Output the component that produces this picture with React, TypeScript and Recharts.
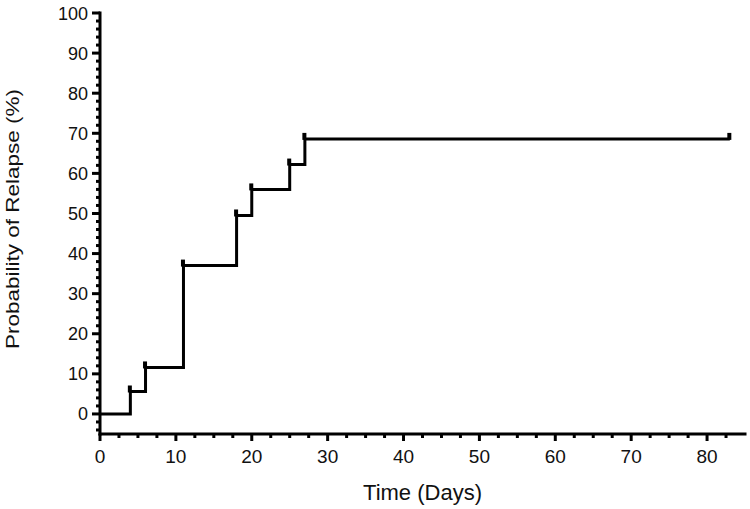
import React from 'react';
import { ComposedChart, Line, Scatter, XAxis, YAxis } from 'recharts';

// Kaplan-Meier style relapse curve (step after each event)
const days = [0, 4, 6, 11, 18, 20, 25, 27, 83];
const relapse = [0, 5.6, 11.6, 37, 49.5, 56, 62.2, 68.6, 68.6];

// censor / event marks drawn at the start of each step
const markDays = [4, 6, 11, 18, 20, 25, 27, 83];
const markValues = [5.6, 11.6, 37, 49.5, 56, 62.2, 68.6, 68.6];

const xMajor = [0, 10, 20, 30, 40, 50, 60, 70, 80];
const yMajor = [0, 10, 20, 30, 40, 50, 60, 70, 80, 90, 100];

const xTicks: number[] = [];
for (let v = 0; v <= 82.5; v += 2.5) xTicks.push(v);
const yTicks: number[] = [];
for (let v = -4; v <= 100; v += 2) yTicks.push(v);

const FONT = '"Liberation Sans", Arial, sans-serif';

const curveData = days.map((d, i) => ({ x: d, y: relapse[i] }));
const markData = markDays.map((d, i) => ({ x: d, y: markValues[i] }));

const XTick = ({ x, y, payload }: any) => {
  const major = xMajor.includes(payload.value);
  return (
    <g>
      <line x1={x} x2={x} y1={y} y2={y + (major ? 7 : 4)} stroke="#000" strokeWidth={3} />
      {major && (
        <text x={x} y={y + 29} textAnchor="middle" fontSize={19} fontFamily={FONT} fill="#111">
          {payload.value}
        </text>
      )}
    </g>
  );
};

const YTick = ({ x, y, payload }: any) => {
  const major = yMajor.includes(payload.value);
  return (
    <g>
      <line x1={x} x2={x - (major ? 8 : 4)} y1={y} y2={y} stroke="#000" strokeWidth={3} />
      {major && (
        <text x={x - 12} y={y + 6.5} textAnchor="end" fontSize={18} fontFamily={FONT} fill="#111">
          {payload.value}
        </text>
      )}
    </g>
  );
};

const MarkShape = ({ cx, cy }: any) => (
  <rect x={cx - 2.5} y={cy - 6} width={4} height={7} fill="#000" />
);

export default function App() {
  return (
    <div style={{ position: 'absolute', left: 0, top: 0, background: '#fff' }}>
      <ComposedChart
        width={750}
        height={509}
        data={curveData}
        margin={{ top: 13, right: 5, left: 0, bottom: 0 }}
      >
        <XAxis
          type="number"
          dataKey="x"
          domain={[0, 85]}
          ticks={xTicks}
          interval={0}
          height={75}
          tickSize={0}
          tickMargin={0}
          tickLine={false}
          tick={<XTick />}
          axisLine={{ stroke: '#000', strokeWidth: 3, strokeLinecap: 'square' }}
          label={{
            content: ({ viewBox }: any) => (
              <text
                x={viewBox.x + viewBox.width / 2}
                y={viewBox.y + 66}
                textAnchor="middle"
                fontSize={22}
                fontFamily={FONT}
                fill="#111"
              >
                Time (Days)
              </text>
            ),
          }}
        />
        <YAxis
          type="number"
          domain={[-5, 100]}
          ticks={yTicks}
          interval={0}
          width={100}
          tickSize={0}
          tickMargin={0}
          tickLine={false}
          tick={<YTick />}
          axisLine={{ stroke: '#000', strokeWidth: 3, strokeLinecap: 'square' }}
          label={{
            content: () => (
              <text
                x={19}
                y={219}
                transform="rotate(-90, 19, 219)"
                textAnchor="middle"
                fontSize={18}
                textLength={260}
                lengthAdjust="spacingAndGlyphs"
                fontFamily={FONT}
                fill="#111"
              >
                Probability of Relapse (%)
              </text>
            ),
          }}
        />
        <Line
          type="stepAfter"
          dataKey="y"
          stroke="#000"
          strokeWidth={3}
          dot={false}
          isAnimationActive={false}
        />
        <Scatter data={markData} dataKey="y" shape={<MarkShape />} isAnimationActive={false} />
      </ComposedChart>
    </div>
  );
}
